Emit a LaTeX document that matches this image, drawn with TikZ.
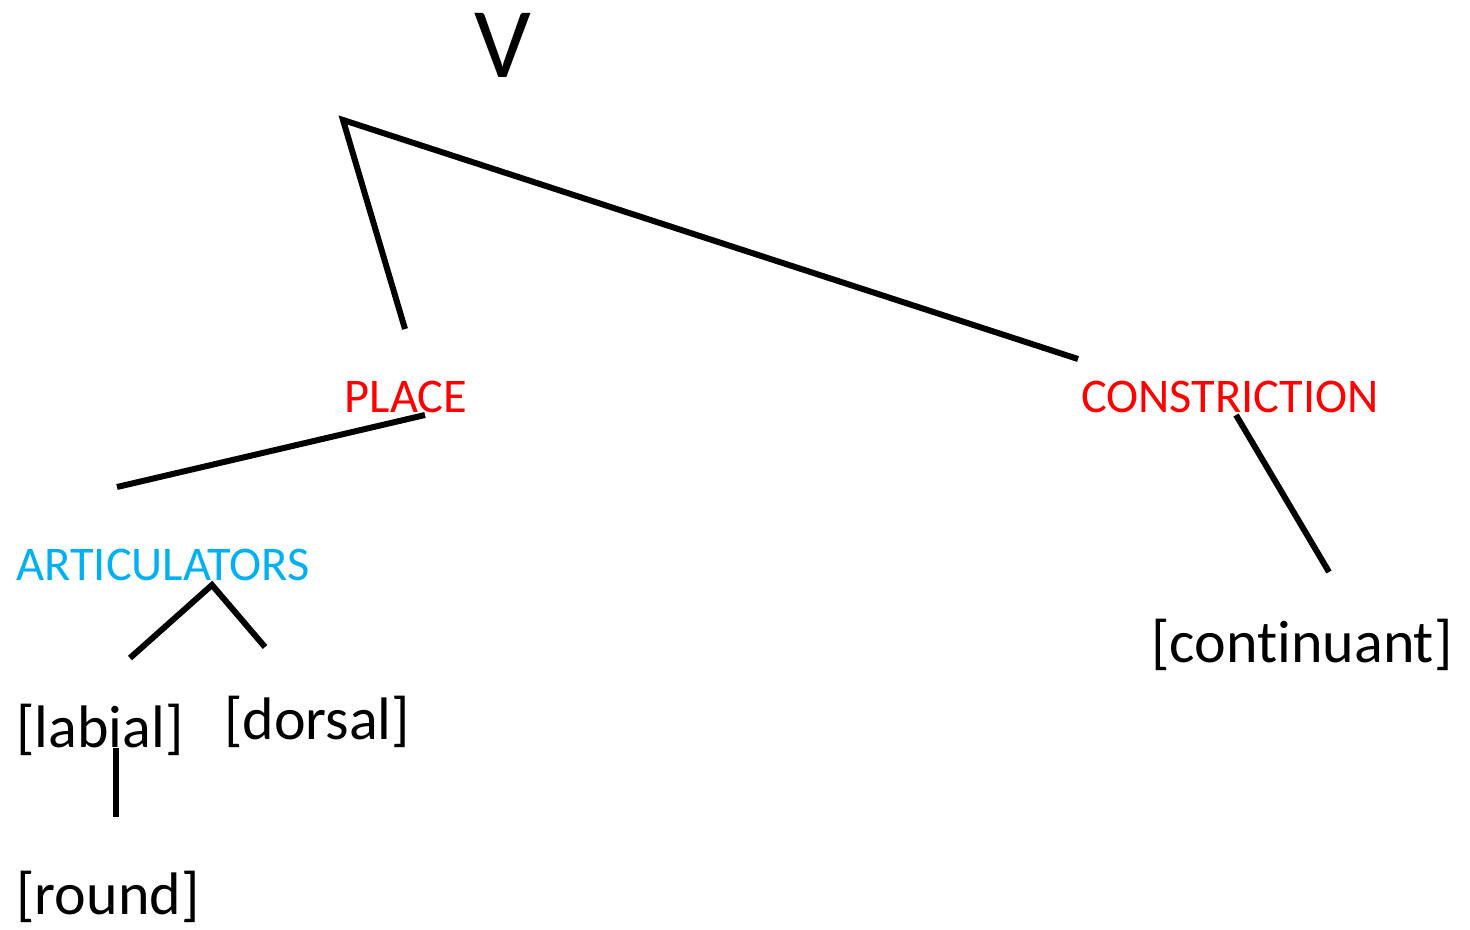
\documentclass[tikz,border=0pt]{standalone}
\usepackage{fontspec}
\setmainfont[Ligatures={NoCommon}]{Carlito}
\definecolor{artblue}{RGB}{0,176,240}
\definecolor{featred}{RGB}{255,0,0}
\tikzset{
  branch/.style={line width=3pt, line cap=butt},
  bigcat/.style={inner sep=0pt, font=\fontsize{24.2}{29}\selectfont},
  feat/.style={inner sep=0pt, font=\fontsize{30}{36}\selectfont},
}
\begin{document}
\begin{tikzpicture}[x=0.5pt,y=-0.5pt]
\useasboundingbox[fill=white] (0,0) rectangle (1470,930);
% labels
\node[inner sep=0pt, font=\fontsize{50}{60}\selectfont] (v) at (503,45) {V};
\node[bigcat, text=featred] (place) at (406,397) {PLACE};
\node[bigcat, text=featred] (constr) at (1230,397) {CONSTRICTION};
\node[bigcat, text=artblue] (artic) at (163,565) {ARTICULATORS};
\node[feat] (labial) at (100,730) {[labial]};
\node[feat] (dorsal) at (317,722) {[dorsal]};
\node[feat] (round) at (108,897) {[round]};
\node[feat] (cont) at (1302,645) {[continuant]};
% branch end points
\coordinate (vroot) at (343,120);
\coordinate (placetop) at (405,329);
\coordinate (constrtop) at (1078,359);
\coordinate (placebot) at (425,415);
\coordinate (artictop) at (117,487);
\coordinate (constrbot) at (1236,415);
\coordinate (conttop) at (1329,572);
\coordinate (articbot) at (212,585);
\coordinate (labialtop) at (130,658);
\coordinate (dorsaltop) at (265,647);
\coordinate (labialbot) at (116,748);
\coordinate (roundtop) at (116,817);
% branches
\draw[branch] (placetop) -- (vroot) -- (constrtop);
\draw[branch] (placebot) -- (artictop);
\draw[branch] (constrbot) -- (conttop);
\draw[branch] (labialtop) -- (articbot) -- (dorsaltop);
\draw[branch] (labialbot) -- (roundtop);
\end{tikzpicture}
\end{document}
